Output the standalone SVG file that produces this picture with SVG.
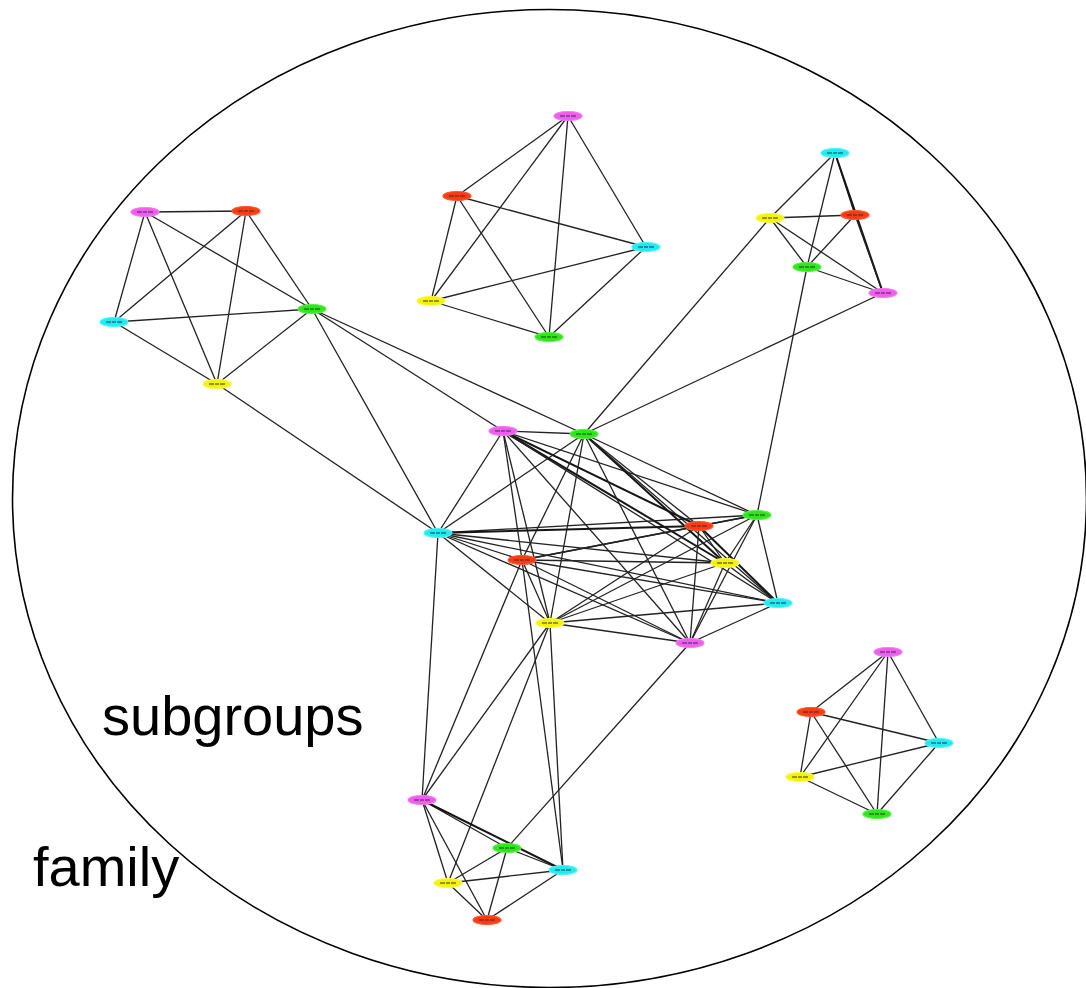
<svg xmlns="http://www.w3.org/2000/svg" width="1086" height="988" viewBox="0 0 1086 988">
  <style>
    .bound { fill: none; stroke: #000; stroke-width: 1.6; }
    .e { stroke: #222; stroke-width: 1.3; fill: none; }
    .e2 { stroke: #151515; stroke-width: 2; fill: none; }
    .n { stroke-width: 1.2; }
    .mag { fill: #f05cf0; stroke: #f27af2; }
    .red { fill: #ff3a12; stroke: #ff5a32; }
    .cya { fill: #1cecf4; stroke: #52f2f8; }
    .yel { fill: #f4f400; stroke: #f8f850; }
    .grn { fill: #2be816; stroke: #5aee48; }
    .lbl { stroke: #333; stroke-width: 1.2; stroke-dasharray: 5 1 4 1; }
    .cap { font-family: "Liberation Sans", Arial, sans-serif; font-size: 56px; fill: #000; }
  </style>

  <!-- outer boundary -->
  <ellipse class="bound" cx="549.5" cy="498.5" rx="537" ry="489"/>

  <!-- captions -->
  <text class="cap" x="102" y="735">subgroups</text>
  <text class="cap" x="33" y="886">family</text>

  <g id="connectors">
    <!-- top-left group -->
    <line class="e" x1="145" y1="212" x2="246" y2="211"/>
    <line class="e" x1="145" y1="212" x2="114" y2="322"/>
    <line class="e" x1="145" y1="212" x2="217" y2="384"/>
    <line class="e" x1="145" y1="212" x2="312" y2="309"/>
    <line class="e" x1="246" y1="211" x2="114" y2="322"/>
    <line class="e" x1="246" y1="211" x2="217" y2="384"/>
    <line class="e" x1="246" y1="211" x2="312" y2="309"/>
    <line class="e" x1="114" y1="322" x2="312" y2="309"/>
    <line class="e" x1="114" y1="322" x2="217" y2="384"/>
    <line class="e" x1="217" y1="384" x2="312" y2="309"/>
    <!-- top-left group to centre -->
    <line class="e" x1="312" y1="309" x2="503" y2="431"/>
    <line class="e" x1="312" y1="309" x2="584" y2="434"/>
    <line class="e" x1="312" y1="309" x2="438" y2="533"/>
    <line class="e" x1="217" y1="384" x2="438" y2="533"/>

    <!-- top-centre group -->
    <line class="e" x1="568" y1="116" x2="457" y2="196"/>
    <line class="e" x1="568" y1="116" x2="431" y2="301"/>
    <line class="e" x1="568" y1="116" x2="549" y2="337"/>
    <line class="e" x1="568" y1="116" x2="646" y2="247"/>
    <line class="e" x1="457" y1="196" x2="646" y2="247"/>
    <line class="e" x1="457" y1="196" x2="431" y2="301"/>
    <line class="e" x1="457" y1="196" x2="549" y2="337"/>
    <line class="e" x1="646" y1="247" x2="431" y2="301"/>
    <line class="e" x1="646" y1="247" x2="549" y2="337"/>
    <line class="e" x1="431" y1="301" x2="549" y2="337"/>

    <!-- top-right group -->
    <line class="e" x1="835" y1="153" x2="770" y2="218"/>
    <line class="e" x1="835" y1="153" x2="807" y2="267"/>
    <line class="e" x1="835" y1="153" x2="855" y2="215"/>
    <line class="e2" x1="835" y1="153" x2="883" y2="293"/>
    <line class="e" x1="770" y1="218" x2="855" y2="215"/>
    <line class="e" x1="770" y1="218" x2="807" y2="267"/>
    <line class="e" x1="770" y1="218" x2="883" y2="293"/>
    <line class="e" x1="855" y1="215" x2="807" y2="267"/>
    <line class="e" x1="855" y1="215" x2="883" y2="293"/>
    <line class="e" x1="807" y1="267" x2="883" y2="293"/>
    <!-- top-right group to centre -->
    <line class="e" x1="770" y1="218" x2="584" y2="434"/>
    <line class="e" x1="883" y1="293" x2="584" y2="434"/>
    <line class="e" x1="807" y1="267" x2="757" y2="515"/>

    <!-- central group -->
    <line class="e" x1="503" y1="431" x2="584" y2="434"/>
    <line class="e" x1="503" y1="431" x2="438" y2="533"/>
    <line class="e" x1="503" y1="431" x2="522" y2="560"/>
    <line class="e" x1="503" y1="431" x2="757" y2="515"/>
    <line class="e2" x1="503" y1="431" x2="699" y2="526"/>
    <line class="e2" x1="503" y1="431" x2="725" y2="563"/>
    <line class="e" x1="503" y1="431" x2="778" y2="603"/>
    <line class="e" x1="503" y1="431" x2="550" y2="623"/>
    <line class="e" x1="503" y1="431" x2="690" y2="643"/>
    <line class="e" x1="584" y1="434" x2="438" y2="533"/>
    <line class="e" x1="584" y1="434" x2="522" y2="560"/>
    <line class="e" x1="584" y1="434" x2="757" y2="515"/>
    <line class="e" x1="584" y1="434" x2="699" y2="526"/>
    <line class="e2" x1="584" y1="434" x2="725" y2="563"/>
    <line class="e" x1="584" y1="434" x2="778" y2="603"/>
    <line class="e" x1="584" y1="434" x2="550" y2="623"/>
    <line class="e" x1="584" y1="434" x2="690" y2="643"/>
    <line class="e" x1="438" y1="533" x2="522" y2="560"/>
    <line class="e" x1="438" y1="533" x2="757" y2="515"/>
    <line class="e2" x1="438" y1="533" x2="699" y2="526"/>
    <line class="e" x1="438" y1="533" x2="725" y2="563"/>
    <line class="e" x1="438" y1="533" x2="778" y2="603"/>
    <line class="e" x1="438" y1="533" x2="550" y2="623"/>
    <line class="e" x1="438" y1="533" x2="690" y2="643"/>
    <line class="e" x1="522" y1="560" x2="757" y2="515"/>
    <line class="e" x1="522" y1="560" x2="699" y2="526"/>
    <line class="e" x1="522" y1="560" x2="725" y2="563"/>
    <line class="e" x1="522" y1="560" x2="778" y2="603"/>
    <line class="e" x1="522" y1="560" x2="550" y2="623"/>
    <line class="e" x1="522" y1="560" x2="690" y2="643"/>
    <line class="e" x1="757" y1="515" x2="699" y2="526"/>
    <line class="e" x1="757" y1="515" x2="725" y2="563"/>
    <line class="e" x1="757" y1="515" x2="778" y2="603"/>
    <line class="e" x1="757" y1="515" x2="550" y2="623"/>
    <line class="e" x1="757" y1="515" x2="690" y2="643"/>
    <line class="e" x1="699" y1="526" x2="725" y2="563"/>
    <line class="e2" x1="699" y1="526" x2="778" y2="603"/>
    <line class="e" x1="699" y1="526" x2="550" y2="623"/>
    <line class="e" x1="699" y1="526" x2="690" y2="643"/>
    <line class="e" x1="725" y1="563" x2="778" y2="603"/>
    <line class="e" x1="725" y1="563" x2="550" y2="623"/>
    <line class="e" x1="725" y1="563" x2="690" y2="643"/>
    <line class="e" x1="778" y1="603" x2="550" y2="623"/>
    <line class="e" x1="778" y1="603" x2="690" y2="643"/>
    <line class="e" x1="550" y1="623" x2="690" y2="643"/>

    <!-- centre to bottom group -->
    <line class="e" x1="438" y1="533" x2="422" y2="800"/>
    <line class="e" x1="522" y1="560" x2="422" y2="800"/>
    <line class="e" x1="550" y1="623" x2="422" y2="800"/>
    <line class="e" x1="522" y1="560" x2="563" y2="870"/>
    <line class="e" x1="550" y1="623" x2="563" y2="870"/>
    <line class="e" x1="550" y1="623" x2="448" y2="883"/>
    <line class="e" x1="690" y1="643" x2="507" y2="848"/>

    <!-- bottom group -->
    <line class="e" x1="422" y1="800" x2="507" y2="848"/>
    <line class="e2" x1="422" y1="800" x2="563" y2="870"/>
    <line class="e" x1="422" y1="800" x2="448" y2="883"/>
    <line class="e" x1="422" y1="800" x2="487" y2="920"/>
    <line class="e" x1="507" y1="848" x2="563" y2="870"/>
    <line class="e" x1="507" y1="848" x2="448" y2="883"/>
    <line class="e" x1="507" y1="848" x2="487" y2="920"/>
    <line class="e" x1="448" y1="883" x2="563" y2="870"/>
    <line class="e" x1="448" y1="883" x2="487" y2="920"/>
    <line class="e" x1="563" y1="870" x2="487" y2="920"/>

    <!-- bottom-right group -->
    <line class="e" x1="888" y1="652" x2="811" y2="712"/>
    <line class="e" x1="888" y1="652" x2="800" y2="777"/>
    <line class="e" x1="888" y1="652" x2="877" y2="814"/>
    <line class="e" x1="888" y1="652" x2="939" y2="743"/>
    <line class="e" x1="811" y1="712" x2="939" y2="743"/>
    <line class="e" x1="811" y1="712" x2="800" y2="777"/>
    <line class="e" x1="811" y1="712" x2="877" y2="814"/>
    <line class="e" x1="939" y1="743" x2="800" y2="777"/>
    <line class="e" x1="939" y1="743" x2="877" y2="814"/>
    <line class="e" x1="800" y1="777" x2="877" y2="814"/>
  </g>

  <defs>
    <g id="tag"><line class="lbl" x1="-8" y1="0" x2="8" y2="0"/></g>
  </defs>

  <!-- top-left group -->
  <g id="tl-m" transform="translate(145,212)"><ellipse class="n mag" rx="14" ry="4.5"/><use href="#tag"/></g>
  <g id="tl-r" transform="translate(246,211)"><ellipse class="n red" rx="14" ry="4.5"/><use href="#tag"/></g>
  <g id="tl-c" transform="translate(114,322)"><ellipse class="n cya" rx="14" ry="4.5"/><use href="#tag"/></g>
  <g id="tl-g" transform="translate(312,309)"><ellipse class="n grn" rx="14" ry="4.5"/><use href="#tag"/></g>
  <g id="tl-y" transform="translate(217,384)"><ellipse class="n yel" rx="14" ry="4.5"/><use href="#tag"/></g>

  <!-- top-centre group -->
  <g id="tc-m" transform="translate(568,116)"><ellipse class="n mag" rx="14" ry="4.5"/><use href="#tag"/></g>
  <g id="tc-r" transform="translate(457,196)"><ellipse class="n red" rx="14" ry="4.5"/><use href="#tag"/></g>
  <g id="tc-c" transform="translate(646,247)"><ellipse class="n cya" rx="14" ry="4.5"/><use href="#tag"/></g>
  <g id="tc-y" transform="translate(431,301)"><ellipse class="n yel" rx="14" ry="4.5"/><use href="#tag"/></g>
  <g id="tc-g" transform="translate(549,337)"><ellipse class="n grn" rx="14" ry="4.5"/><use href="#tag"/></g>

  <!-- top-right group -->
  <g id="tr-c" transform="translate(835,153)"><ellipse class="n cya" rx="14" ry="4.5"/><use href="#tag"/></g>
  <g id="tr-y" transform="translate(770,218)"><ellipse class="n yel" rx="14" ry="4.5"/><use href="#tag"/></g>
  <g id="tr-r" transform="translate(855,215)"><ellipse class="n red" rx="14" ry="4.5"/><use href="#tag"/></g>
  <g id="tr-g" transform="translate(807,267)"><ellipse class="n grn" rx="14" ry="4.5"/><use href="#tag"/></g>
  <g id="tr-m" transform="translate(883,293)"><ellipse class="n mag" rx="14" ry="4.5"/><use href="#tag"/></g>

  <!-- central group -->
  <g id="c-m1" transform="translate(503,431)"><ellipse class="n mag" rx="14" ry="4.5"/><use href="#tag"/></g>
  <g id="c-g1" transform="translate(584,434)"><ellipse class="n grn" rx="14" ry="4.5"/><use href="#tag"/></g>
  <g id="c-c1" transform="translate(438,533)"><ellipse class="n cya" rx="14" ry="4.5"/><use href="#tag"/></g>
  <g id="c-r1" transform="translate(522,560)"><ellipse class="n red" rx="14" ry="4.5"/><use href="#tag"/></g>
  <g id="c-g2" transform="translate(757,515)"><ellipse class="n grn" rx="14" ry="4.5"/><use href="#tag"/></g>
  <g id="c-r2" transform="translate(699,526)"><ellipse class="n red" rx="14" ry="4.5"/><use href="#tag"/></g>
  <g id="c-y1" transform="translate(725,563)"><ellipse class="n yel" rx="14" ry="4.5"/><use href="#tag"/></g>
  <g id="c-c2" transform="translate(778,603)"><ellipse class="n cya" rx="14" ry="4.5"/><use href="#tag"/></g>
  <g id="c-y2" transform="translate(550,623)"><ellipse class="n yel" rx="14" ry="4.5"/><use href="#tag"/></g>
  <g id="c-m2" transform="translate(690,643)"><ellipse class="n mag" rx="14" ry="4.5"/><use href="#tag"/></g>

  <!-- bottom group -->
  <g id="b-m" transform="translate(422,800)"><ellipse class="n mag" rx="14" ry="4.5"/><use href="#tag"/></g>
  <g id="b-g" transform="translate(507,848)"><ellipse class="n grn" rx="14" ry="4.5"/><use href="#tag"/></g>
  <g id="b-c" transform="translate(563,870)"><ellipse class="n cya" rx="14" ry="4.5"/><use href="#tag"/></g>
  <g id="b-y" transform="translate(448,883)"><ellipse class="n yel" rx="14" ry="4.5"/><use href="#tag"/></g>
  <g id="b-r" transform="translate(487,920)"><ellipse class="n red" rx="14" ry="4.5"/><use href="#tag"/></g>

  <!-- bottom-right group -->
  <g id="br-m" transform="translate(888,652)"><ellipse class="n mag" rx="14" ry="4.5"/><use href="#tag"/></g>
  <g id="br-r" transform="translate(811,712)"><ellipse class="n red" rx="14" ry="4.5"/><use href="#tag"/></g>
  <g id="br-c" transform="translate(939,743)"><ellipse class="n cya" rx="14" ry="4.5"/><use href="#tag"/></g>
  <g id="br-y" transform="translate(800,777)"><ellipse class="n yel" rx="14" ry="4.5"/><use href="#tag"/></g>
  <g id="br-g" transform="translate(877,814)"><ellipse class="n grn" rx="14" ry="4.5"/><use href="#tag"/></g>
</svg>
